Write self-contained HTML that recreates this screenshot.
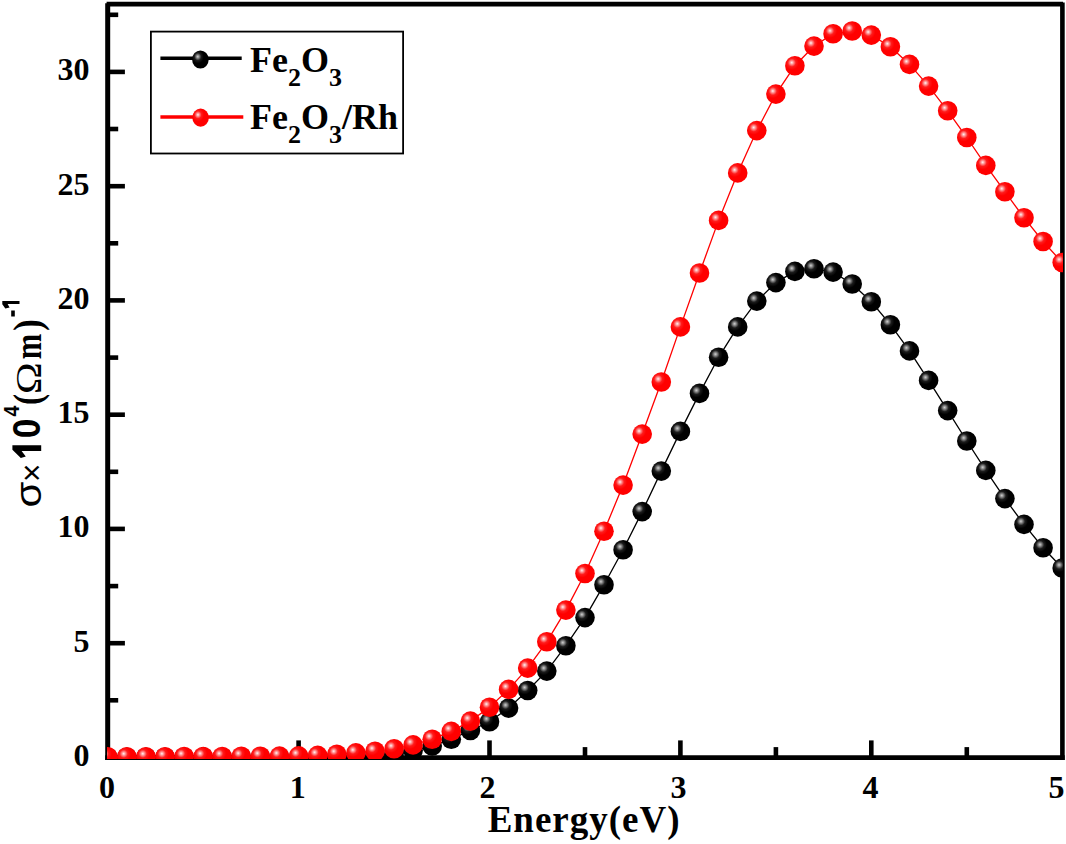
<!DOCTYPE html>
<html><head><meta charset="utf-8"><style>
html,body{margin:0;padding:0;background:#fff;overflow:hidden;}
svg{display:block;}
</style></head><body>
<svg width="1066" height="844" viewBox="0 0 1066 844" font-family="Liberation Serif" font-weight="bold">
<defs>
<radialGradient id="gb" cx="0.35" cy="0.36" r="0.65" fx="0.34" fy="0.34">
<stop offset="0" stop-color="#d0d0d0"/><stop offset="0.12" stop-color="#909090"/><stop offset="0.32" stop-color="#1c1c1c"/><stop offset="0.55" stop-color="#000"/><stop offset="1" stop-color="#000"/>
</radialGradient>
<radialGradient id="gr" cx="0.35" cy="0.36" r="0.65" fx="0.34" fy="0.34">
<stop offset="0" stop-color="#fff4f4"/><stop offset="0.12" stop-color="#ffa0a0"/><stop offset="0.32" stop-color="#ff1c1c"/><stop offset="0.55" stop-color="#ff0000"/><stop offset="1" stop-color="#ff0000"/>
</radialGradient>
<clipPath id="cp"><rect x="107" y="3" width="956" height="756"/></clipPath>
</defs>
<rect width="1066" height="844" fill="#fff"/>
<g stroke="#000" stroke-width="4.6" fill="none">
<line x1="106.6" y1="4.1" x2="1063" y2="4.1" stroke-width="4.6"/>
<line x1="107.7" y1="3.2" x2="107.7" y2="759.9" stroke-width="5"/>
<line x1="1062.4" y1="2.6" x2="1062.4" y2="759.9" stroke-width="4.6"/>
<line x1="105.2" y1="757.6" x2="1064.7" y2="757.6" stroke-width="4.6"/>
<line x1="203.2" y1="757.6" x2="203.2" y2="747.1"/>
<line x1="298.6" y1="757.6" x2="298.6" y2="740.4"/>
<line x1="394.1" y1="757.6" x2="394.1" y2="747.1"/>
<line x1="489.5" y1="757.6" x2="489.5" y2="740.4"/>
<line x1="585.0" y1="757.6" x2="585.0" y2="747.1"/>
<line x1="680.4" y1="757.6" x2="680.4" y2="740.4"/>
<line x1="775.9" y1="757.6" x2="775.9" y2="747.1"/>
<line x1="871.3" y1="757.6" x2="871.3" y2="740.4"/>
<line x1="966.8" y1="757.6" x2="966.8" y2="747.1"/>
<line x1="107.7" y1="700.3" x2="118.2" y2="700.3"/>
<line x1="107.7" y1="643.2" x2="124.9" y2="643.2"/>
<line x1="107.7" y1="586.1" x2="118.2" y2="586.1"/>
<line x1="107.7" y1="528.9" x2="124.9" y2="528.9"/>
<line x1="107.7" y1="471.8" x2="118.2" y2="471.8"/>
<line x1="107.7" y1="414.7" x2="124.9" y2="414.7"/>
<line x1="107.7" y1="357.6" x2="118.2" y2="357.6"/>
<line x1="107.7" y1="300.4" x2="124.9" y2="300.4"/>
<line x1="107.7" y1="243.3" x2="118.2" y2="243.3"/>
<line x1="107.7" y1="186.2" x2="124.9" y2="186.2"/>
<line x1="107.7" y1="129.0" x2="118.2" y2="129.0"/>
<line x1="107.7" y1="71.9" x2="124.9" y2="71.9"/>
<line x1="107.7" y1="14.8" x2="118.2" y2="14.8"/>
</g>
<g clip-path="url(#cp)">
<polyline points="107.7,757.2 126.8,757.2 145.9,757.2 165.0,757.2 184.1,757.2 203.2,757.2 222.2,757.2 241.3,757.2 260.4,757.2 279.5,757.2 298.6,757.2 317.7,757.0 336.8,756.8 355.9,756.3 375.0,755.4 394.1,753.6 413.1,750.6 432.2,746.0 451.3,739.2 470.4,730.5 489.5,721.8 508.6,708.1 527.7,690.5 546.8,671.1 565.9,645.7 585.0,617.6 604.0,584.7 623.1,549.7 642.2,511.6 661.3,471.1 680.4,431.4 699.5,393.4 718.6,357.3 737.7,326.9 756.8,301.1 775.9,282.6 794.9,271.4 814.0,268.7 833.1,272.1 852.2,284.0 871.3,301.8 890.4,324.7 909.5,350.9 928.6,380.4 947.7,410.6 966.8,441.0 985.8,470.4 1004.9,498.6 1024.0,524.4 1043.1,547.7 1062.2,568.0" fill="none" stroke="#000" stroke-width="1.3"/>
<circle cx="107.7" cy="757.2" r="9.8" fill="url(#gb)"/>
<circle cx="126.8" cy="757.2" r="9.8" fill="url(#gb)"/>
<circle cx="145.9" cy="757.2" r="9.8" fill="url(#gb)"/>
<circle cx="165.0" cy="757.2" r="9.8" fill="url(#gb)"/>
<circle cx="184.1" cy="757.2" r="9.8" fill="url(#gb)"/>
<circle cx="203.2" cy="757.2" r="9.8" fill="url(#gb)"/>
<circle cx="222.2" cy="757.2" r="9.8" fill="url(#gb)"/>
<circle cx="241.3" cy="757.2" r="9.8" fill="url(#gb)"/>
<circle cx="260.4" cy="757.2" r="9.8" fill="url(#gb)"/>
<circle cx="279.5" cy="757.2" r="9.8" fill="url(#gb)"/>
<circle cx="298.6" cy="757.2" r="9.8" fill="url(#gb)"/>
<circle cx="317.7" cy="757.0" r="9.8" fill="url(#gb)"/>
<circle cx="336.8" cy="756.8" r="9.8" fill="url(#gb)"/>
<circle cx="355.9" cy="756.3" r="9.8" fill="url(#gb)"/>
<circle cx="375.0" cy="755.4" r="9.8" fill="url(#gb)"/>
<circle cx="394.1" cy="753.6" r="9.8" fill="url(#gb)"/>
<circle cx="413.1" cy="750.6" r="9.8" fill="url(#gb)"/>
<circle cx="432.2" cy="746.0" r="9.8" fill="url(#gb)"/>
<circle cx="451.3" cy="739.2" r="9.8" fill="url(#gb)"/>
<circle cx="470.4" cy="730.5" r="9.8" fill="url(#gb)"/>
<circle cx="489.5" cy="721.8" r="9.8" fill="url(#gb)"/>
<circle cx="508.6" cy="708.1" r="9.8" fill="url(#gb)"/>
<circle cx="527.7" cy="690.5" r="9.8" fill="url(#gb)"/>
<circle cx="546.8" cy="671.1" r="9.8" fill="url(#gb)"/>
<circle cx="565.9" cy="645.7" r="9.8" fill="url(#gb)"/>
<circle cx="585.0" cy="617.6" r="9.8" fill="url(#gb)"/>
<circle cx="604.0" cy="584.7" r="9.8" fill="url(#gb)"/>
<circle cx="623.1" cy="549.7" r="9.8" fill="url(#gb)"/>
<circle cx="642.2" cy="511.6" r="9.8" fill="url(#gb)"/>
<circle cx="661.3" cy="471.1" r="9.8" fill="url(#gb)"/>
<circle cx="680.4" cy="431.4" r="9.8" fill="url(#gb)"/>
<circle cx="699.5" cy="393.4" r="9.8" fill="url(#gb)"/>
<circle cx="718.6" cy="357.3" r="9.8" fill="url(#gb)"/>
<circle cx="737.7" cy="326.9" r="9.8" fill="url(#gb)"/>
<circle cx="756.8" cy="301.1" r="9.8" fill="url(#gb)"/>
<circle cx="775.9" cy="282.6" r="9.8" fill="url(#gb)"/>
<circle cx="794.9" cy="271.4" r="9.8" fill="url(#gb)"/>
<circle cx="814.0" cy="268.7" r="9.8" fill="url(#gb)"/>
<circle cx="833.1" cy="272.1" r="9.8" fill="url(#gb)"/>
<circle cx="852.2" cy="284.0" r="9.8" fill="url(#gb)"/>
<circle cx="871.3" cy="301.8" r="9.8" fill="url(#gb)"/>
<circle cx="890.4" cy="324.7" r="9.8" fill="url(#gb)"/>
<circle cx="909.5" cy="350.9" r="9.8" fill="url(#gb)"/>
<circle cx="928.6" cy="380.4" r="9.8" fill="url(#gb)"/>
<circle cx="947.7" cy="410.6" r="9.8" fill="url(#gb)"/>
<circle cx="966.8" cy="441.0" r="9.8" fill="url(#gb)"/>
<circle cx="985.8" cy="470.4" r="9.8" fill="url(#gb)"/>
<circle cx="1004.9" cy="498.6" r="9.8" fill="url(#gb)"/>
<circle cx="1024.0" cy="524.4" r="9.8" fill="url(#gb)"/>
<circle cx="1043.1" cy="547.7" r="9.8" fill="url(#gb)"/>
<circle cx="1062.2" cy="568.0" r="9.8" fill="url(#gb)"/>
<polyline points="107.7,756.8 126.8,756.8 145.9,756.8 165.0,756.8 184.1,756.5 203.2,756.5 222.2,756.5 241.3,756.3 260.4,756.3 279.5,756.1 298.6,755.9 317.7,755.4 336.8,754.3 355.9,752.9 375.0,751.3 394.1,748.8 413.1,744.9 432.2,739.2 451.3,731.4 470.4,721.1 489.5,707.2 508.6,689.4 527.7,668.1 546.8,641.8 565.9,610.1 585.0,573.5 604.0,531.2 623.1,485.1 642.2,434.1 661.3,382.0 680.4,326.9 699.5,273.0 718.6,220.4 737.7,172.9 756.8,130.6 775.9,94.1 794.9,65.7 814.0,46.1 833.1,33.8 852.2,31.0 871.3,35.1 890.4,46.8 909.5,64.4 928.6,86.1 947.7,110.8 966.8,137.5 985.8,165.4 1004.9,191.7 1024.0,217.7 1043.1,241.5 1062.2,262.5" fill="none" stroke="#ff0000" stroke-width="1.3"/>
<circle cx="107.7" cy="756.8" r="9.8" fill="url(#gr)"/>
<circle cx="126.8" cy="756.8" r="9.8" fill="url(#gr)"/>
<circle cx="145.9" cy="756.8" r="9.8" fill="url(#gr)"/>
<circle cx="165.0" cy="756.8" r="9.8" fill="url(#gr)"/>
<circle cx="184.1" cy="756.5" r="9.8" fill="url(#gr)"/>
<circle cx="203.2" cy="756.5" r="9.8" fill="url(#gr)"/>
<circle cx="222.2" cy="756.5" r="9.8" fill="url(#gr)"/>
<circle cx="241.3" cy="756.3" r="9.8" fill="url(#gr)"/>
<circle cx="260.4" cy="756.3" r="9.8" fill="url(#gr)"/>
<circle cx="279.5" cy="756.1" r="9.8" fill="url(#gr)"/>
<circle cx="298.6" cy="755.9" r="9.8" fill="url(#gr)"/>
<circle cx="317.7" cy="755.4" r="9.8" fill="url(#gr)"/>
<circle cx="336.8" cy="754.3" r="9.8" fill="url(#gr)"/>
<circle cx="355.9" cy="752.9" r="9.8" fill="url(#gr)"/>
<circle cx="375.0" cy="751.3" r="9.8" fill="url(#gr)"/>
<circle cx="394.1" cy="748.8" r="9.8" fill="url(#gr)"/>
<circle cx="413.1" cy="744.9" r="9.8" fill="url(#gr)"/>
<circle cx="432.2" cy="739.2" r="9.8" fill="url(#gr)"/>
<circle cx="451.3" cy="731.4" r="9.8" fill="url(#gr)"/>
<circle cx="470.4" cy="721.1" r="9.8" fill="url(#gr)"/>
<circle cx="489.5" cy="707.2" r="9.8" fill="url(#gr)"/>
<circle cx="508.6" cy="689.4" r="9.8" fill="url(#gr)"/>
<circle cx="527.7" cy="668.1" r="9.8" fill="url(#gr)"/>
<circle cx="546.8" cy="641.8" r="9.8" fill="url(#gr)"/>
<circle cx="565.9" cy="610.1" r="9.8" fill="url(#gr)"/>
<circle cx="585.0" cy="573.5" r="9.8" fill="url(#gr)"/>
<circle cx="604.0" cy="531.2" r="9.8" fill="url(#gr)"/>
<circle cx="623.1" cy="485.1" r="9.8" fill="url(#gr)"/>
<circle cx="642.2" cy="434.1" r="9.8" fill="url(#gr)"/>
<circle cx="661.3" cy="382.0" r="9.8" fill="url(#gr)"/>
<circle cx="680.4" cy="326.9" r="9.8" fill="url(#gr)"/>
<circle cx="699.5" cy="273.0" r="9.8" fill="url(#gr)"/>
<circle cx="718.6" cy="220.4" r="9.8" fill="url(#gr)"/>
<circle cx="737.7" cy="172.9" r="9.8" fill="url(#gr)"/>
<circle cx="756.8" cy="130.6" r="9.8" fill="url(#gr)"/>
<circle cx="775.9" cy="94.1" r="9.8" fill="url(#gr)"/>
<circle cx="794.9" cy="65.7" r="9.8" fill="url(#gr)"/>
<circle cx="814.0" cy="46.1" r="9.8" fill="url(#gr)"/>
<circle cx="833.1" cy="33.8" r="9.8" fill="url(#gr)"/>
<circle cx="852.2" cy="31.0" r="9.8" fill="url(#gr)"/>
<circle cx="871.3" cy="35.1" r="9.8" fill="url(#gr)"/>
<circle cx="890.4" cy="46.8" r="9.8" fill="url(#gr)"/>
<circle cx="909.5" cy="64.4" r="9.8" fill="url(#gr)"/>
<circle cx="928.6" cy="86.1" r="9.8" fill="url(#gr)"/>
<circle cx="947.7" cy="110.8" r="9.8" fill="url(#gr)"/>
<circle cx="966.8" cy="137.5" r="9.8" fill="url(#gr)"/>
<circle cx="985.8" cy="165.4" r="9.8" fill="url(#gr)"/>
<circle cx="1004.9" cy="191.7" r="9.8" fill="url(#gr)"/>
<circle cx="1024.0" cy="217.7" r="9.8" fill="url(#gr)"/>
<circle cx="1043.1" cy="241.5" r="9.8" fill="url(#gr)"/>
<circle cx="1062.2" cy="262.5" r="9.8" fill="url(#gr)"/>
</g>
<g font-size="32">
<text x="106.9" y="797.9" text-anchor="middle">0</text>
<text x="297.8" y="797.9" text-anchor="middle">1</text>
<text x="487.6" y="797.9" text-anchor="middle">2</text>
<text x="678.5" y="797.9" text-anchor="middle">3</text>
<text x="870.5" y="797.9" text-anchor="middle">4</text>
<text x="1056.4" y="797.9" text-anchor="middle">5</text>
<text x="89.6" y="765.8" text-anchor="end">0</text>
<text x="89.6" y="651.5" text-anchor="end">5</text>
<text x="89.6" y="537.2" text-anchor="end">10</text>
<text x="89.6" y="423.0" text-anchor="end">15</text>
<text x="89.6" y="308.7" text-anchor="end">20</text>
<text x="89.6" y="194.5" text-anchor="end">25</text>
<text x="89.6" y="80.2" text-anchor="end">30</text>
</g>
<text x="584.1" y="831.6" text-anchor="middle" font-size="37" letter-spacing="1">Energy(eV)</text>
<g transform="rotate(-90)">
<text transform="translate(-507.57,40.94) scale(1.0536,0.9061)" font-family="Liberation Sans" font-weight="normal" font-size="40">σ</text>
<text transform="translate(-482.10,42.83) scale(0.7865,0.8258)" font-family="Liberation Sans" font-weight="normal" font-size="40">×</text>
<text transform="translate(-438.21,40.32) scale(0.8842,0.9499)" font-family="Liberation Sans" font-weight="bold" font-size="40">0</text>
<text transform="translate(-416.49,18.70) scale(0.4851,0.5305)" font-family="Liberation Sans" font-weight="bold" font-size="40">4</text>
<text transform="translate(-404.96,40.93) scale(0.8268,1.0061)" font-family="Liberation Serif" font-weight="bold" font-size="40">(</text>
<text transform="translate(-394.15,40.60) scale(1.0798,0.8875)" font-family="Liberation Serif" font-weight="normal" font-size="40">Ω</text>
<text transform="translate(-359.33,40.60) scale(0.7668,0.9236)" font-family="Liberation Serif" font-weight="bold" font-size="40">m</text>
<text transform="translate(-331.05,40.93) scale(0.8949,1.0061)" font-family="Liberation Serif" font-weight="bold" font-size="40">)</text>
</g>
<path d="M12.4,445.2 L41.2,445.2 L41.2,451 L21.6,451 L25.8,456.6 L20.8,458.0 L12.4,449.8 Z" fill="#000"/>
<path d="M2.3,301.1 L19.5,301.1 L19.5,304.1 L7.6,304.1 L9.6,307.6 L5.3,308.4 L2.3,304.2 Z" fill="#000"/>
<rect x="11.2" y="310.5" width="3.6" height="6" fill="#000"/>
<rect x="150.9" y="31.6" width="252.2" height="121.9" fill="#fff" stroke="#000" stroke-width="1.8"/>
<line x1="160.4" y1="58.3" x2="241.7" y2="58.3" stroke="#000" stroke-width="3.5"/>
<ellipse cx="200.4" cy="59.5" rx="8.3" ry="9.1" fill="url(#gb)"/>
<line x1="160.4" y1="117" x2="243.3" y2="117" stroke="#ff0000" stroke-width="3.5"/>
<ellipse cx="200.6" cy="117.6" rx="8.3" ry="9.1" fill="url(#gr)"/>
<text x="250" y="71.9" font-size="36">Fe<tspan font-size="26" dy="14">2</tspan><tspan dy="-14">O</tspan><tspan font-size="26" dy="14">3</tspan></text>
<text x="250" y="128.9" font-size="36">Fe<tspan font-size="26" dy="14">2</tspan><tspan dy="-14">O</tspan><tspan font-size="26" dy="14">3</tspan><tspan dy="-14">/Rh</tspan></text>
</svg>
</body></html>
